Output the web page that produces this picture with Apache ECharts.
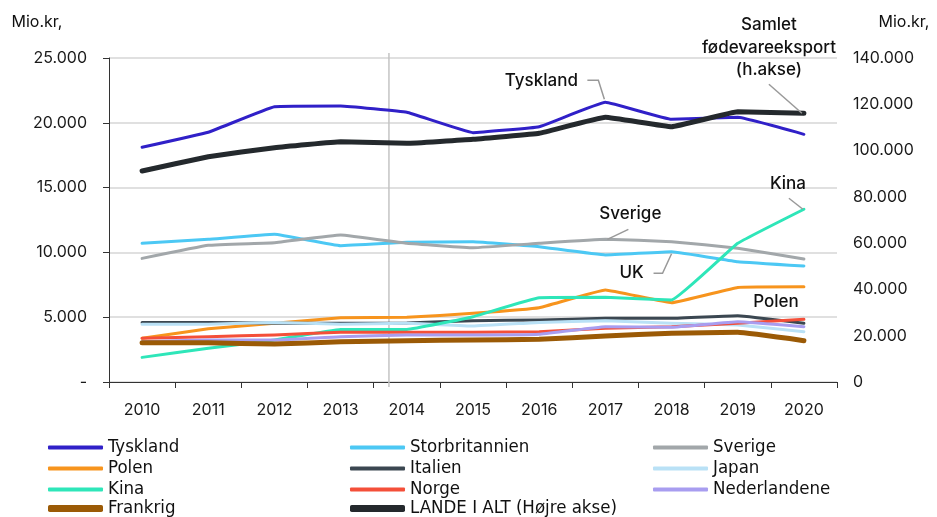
<!DOCTYPE html>
<html><head><meta charset="utf-8">
<script src="https://cdn.jsdelivr.net/npm/echarts@6/dist/echarts.min.js"></script>
<style>html,body{margin:0;padding:0;background:#fff}#c{width:937px;height:517px}</style>
</head><body><div id="c"></div>
<script>
const years = ['2010','2011','2012','2013','2014','2015','2016','2017','2018','2019','2020'];
const leftTickLabels = ['-','5.000','10.000','15.000','20.000','25.000'];
const rightTickLabels = ['0','20.000','40.000','60.000','80.000','100.000','120.000','140.000'];

const tyskland       = [18110,19270,21240,21300,20810,19240,19700,21580,20270,20420,19110];
const storbritannien = [10700,11010,11400,10520,10780,10830,10440,9800,10050,9280,8950];
const sverige        = [9540,10550,10750,11340,10700,10360,10700,11010,10830,10320,9490];
const polen          = [3370,4110,4530,4960,4990,5300,5730,7100,6120,7300,7350];
const italien        = [4600,4600,4530,4530,4560,4730,4780,4910,4910,5120,4530];
const japan          = [4450,4450,4600,4450,4530,4320,4600,4730,4530,4400,3880];
const kina           = [1900,2600,3240,4060,4060,5040,6500,6530,6330,10700,13330];
const norge          = [3370,3500,3630,3830,3830,3830,3880,4140,4270,4530,4840];
const nederlandene   = [3110,3240,3240,3500,3630,3630,3680,4270,4220,4650,4270];
const frankrig       = [3030,3030,2930,3110,3190,3240,3290,3550,3760,3830,3190];
const landeIAlt      = [91170,97350,101240,103830,103130,104870,107460,114380,110320,116800,116100];

const names = ['Tyskland','Storbritannien','Sverige','Polen','Italien','Japan','Kina','Norge','Nederlandene','Frankrig','LANDE I ALT (Højre akse)'];
const values = [tyskland,storbritannien,sverige,polen,italien,japan,kina,norge,nederlandene,frankrig,landeIAlt];
const colors = ['#3020c8','#4cc8f4','#a2a7aa','#f7941d','#3b4751','#b9e1f6','#2ee6b9','#f44f39','#a89df0','#9b5a06','#24292d'];
const widths = [3,3,3,3,3,3,3,3,3,5,5];
const dividerPos = 3.73;

const FONT = 'Inter, "Liberation Sans", sans-serif';
const chart = echarts.init(document.getElementById('c'), null, {renderer:'canvas'});

const series = names.map((n,i)=>({
  name:n, type:'line', data:values[i], yAxisIndex: i===10?1:0,
  symbol:'none', smooth:0.08,
  lineStyle:{color:colors[i], width:widths[i], cap:'round', join:'round'},
  itemStyle:{color:colors[i]}, emphasis:{disabled:true}
}));

function legend(items, left, top, h){
  return {orient:'vertical', left:left, top:top, padding:0, itemWidth:55, itemHeight:h, itemGap:2,
    icon:'roundRect', selectedMode:false, data:items,
    textStyle:{fontFamily:'"DejaVu Sans Condensed", "Liberation Sans Narrow", "Liberation Sans", sans-serif', fontSize:18.5, color:'#111', lineHeight:17}};
}

chart.setOption({
  animation:false,
  textStyle:{fontFamily:FONT},
  grid:{left:109, right:100, top:58, bottom:135},
  legend:[
    legend(['Tyskland','Polen','Kina'],48,438,4),
    legend(['Frankrig'],48,499,7),
    legend(['Storbritannien','Italien','Norge'],350,438,4),
    legend(['LANDE I ALT (Højre akse)'],350,499,7),
    legend(['Sverige','Japan','Nederlandene'],653,438,4)
  ],
  xAxis:{type:'category', data:years, boundaryGap:true,
    axisLine:{lineStyle:{color:'#333',width:1}},
    axisTick:{show:true,length:6,lineStyle:{color:'#333'}},
    axisLabel:{color:'#1a1a1a',fontSize:16,margin:20,fontFamily:FONT}},
  yAxis:[
    {type:'value',min:0,max:25000,interval:5000,
     axisLine:{show:true,lineStyle:{color:'#333'}},
     axisTick:{show:true,length:6,lineStyle:{color:'#333'}},
     splitLine:{lineStyle:{color:'#d6d6d6',width:1.5}},
     axisLabel:{color:'#1a1a1a',fontSize:16,margin:22,fontFamily:FONT,
       formatter:(v,i)=>leftTickLabels[Math.round(v/5000)]}},
    {type:'value',min:0,max:140000,interval:20000,position:'right',
     axisLine:{show:false},axisTick:{show:false},splitLine:{show:false},
     axisLabel:{color:'#1a1a1a',fontSize:16,margin:16,fontFamily:FONT,
       formatter:(v)=>rightTickLabels[Math.round(v/20000)]}}
  ],
  series:series
});

function px(si, xi){ return chart.convertToPixel({seriesIndex:si},[xi, values[si][xi]]); }
const annStyle = {fontFamily:FONT, fontSize:17, fontWeight:500, fill:'#111'};
const lead = {stroke:'#999', lineWidth:1.5, fill:null};
const g = [];
function txt(x,y,t,extra){ g.push({type:'text', x:x, y:y, silent:true, z:100,
  style:Object.assign({text:t, align:'center', verticalAlign:'middle'}, annStyle, extra||{})}); }
function pl(pts){ g.push({type:'polyline', silent:true, z:99, shape:{points:pts}, style:lead}); }

// axis names
txt(37,22,'Mio.kr,',{fontSize:16,fontWeight:400});
txt(904,22,'Mio.kr,',{fontSize:16,fontWeight:400});

// divider line between 2013 and 2014
const a = chart.convertToPixel({xAxisIndex:0}, 3), b = chart.convertToPixel({xAxisIndex:0}, 4);
const dx = a + (b-a)*(dividerPos-3);
g.push({type:'line', silent:true, z:1, shape:{x1:dx,y1:53,x2:dx,y2:387}, style:{stroke:'#c4c4c4',lineWidth:1.5}});

let p = px(0,7); // Tyskland 2017
txt(p[0]-64,p[1]-21,'Tyskland');
pl([[p[0]-18,p[1]-22],[p[0]-7,p[1]-22],[p[0]-1,p[1]-3]]);

p = px(10,10); // LANDE 2020
txt(p[0]-35,p[1]-88,'Samlet');
txt(p[0]-35,p[1]-65,'fødevareeksport');
txt(p[0]-35,p[1]-43,'(h.akse)');
pl([[p[0]-35,p[1]-29],[p[0]-2,p[1]]]);

p = px(6,10); // Kina 2020
txt(p[0]-16,p[1]-25,'Kina');
pl([[p[0]-15,p[1]-11],[p[0]-1,p[1]]]);

p = px(2,7); // Sverige 2017
txt(p[0]+25,p[1]-25,'Sverige');
pl([[p[0]+2,p[1]],[p[0]+23,p[1]-10]]);

p = px(1,8); // UK 2018
txt(p[0]-40,p[1]+21,'UK');
pl([[p[0]-18,p[1]+21.6],[p[0]-9,p[1]+21.6],[p[0],p[1]+2]]);

p = px(3,10); // Polen 2020
txt(p[0]-28,p[1]+15,'Polen');

chart.setOption({graphic:g});
</script></body></html>
